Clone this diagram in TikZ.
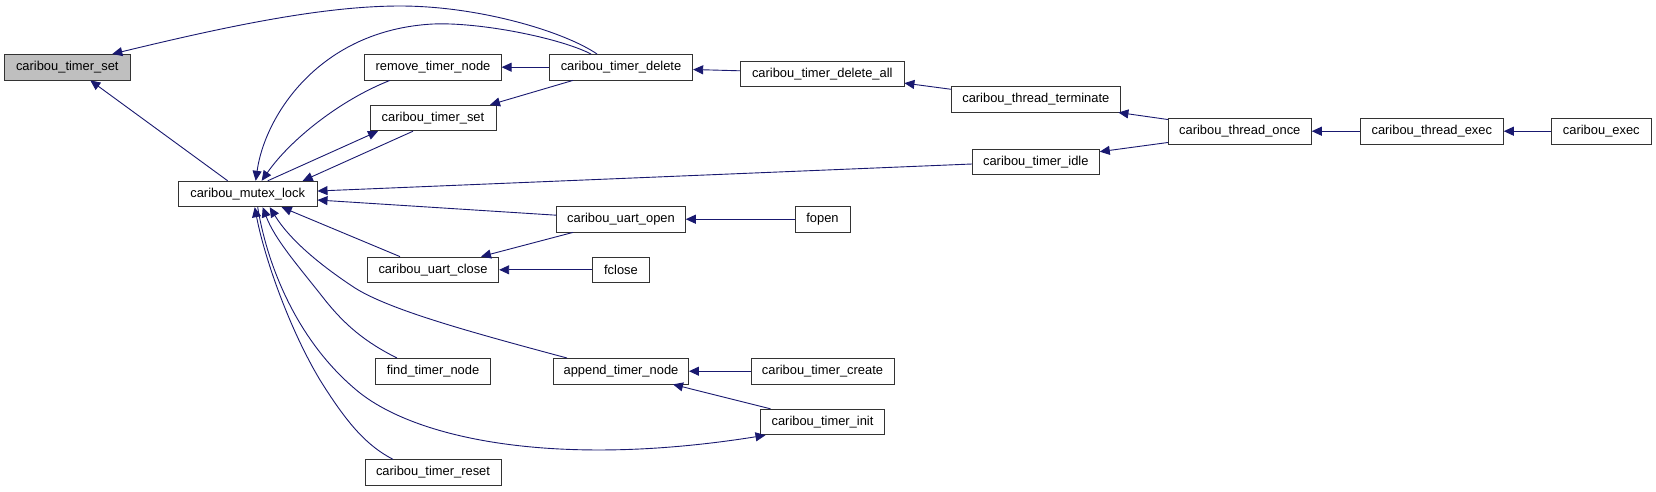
\documentclass[tikz,border=0pt]{standalone}
\usepackage{fontspec}
\setmainfont{Liberation Sans}
\usetikzlibrary{arrows.meta}
\definecolor{edgec}{HTML}{191970}
\definecolor{graybox}{HTML}{BFBFBF}
\begin{document}
\begin{tikzpicture}[x=1pt,y=-1pt,
  box/.style={draw=black!80, line width=0.9pt, rectangle, inner sep=0pt,
    minimum height=25.5pt, fill=white,
    font=\fontsize{12.9}{15}\selectfont},
  ed/.style={draw=edgec, line width=0.9pt, -{Triangle[length=10pt,width=9pt]}}]
\path[use as bounding box, fill=white] (0,0) rectangle (1656,491);

% nodes
\node[box, fill=graybox, minimum width=125.3pt] (ts) at (67.3,67.2) {caribou\_timer\_set};
\node[box, minimum width=136.3pt] (rm) at (433,67.2) {remove\_timer\_node};
\node[box, minimum width=126pt] (ts2) at (433,118) {caribou\_timer\_set};
\node[box, minimum width=138.7pt] (ml) at (247.7,194) {caribou\_mutex\_lock};
\node[box, minimum width=131.4pt] (uc) at (433,269.8) {caribou\_uart\_close};
\node[box, minimum width=115pt] (fn) at (433,371.2) {find\_timer\_node};
\node[box, minimum width=136pt] (tr) at (433,472.5) {caribou\_timer\_reset};
\node[box, minimum width=143.4pt] (td) at (621,67.2) {caribou\_timer\_delete};
\node[box, minimum width=163.3pt] (da) at (822.3,73.8) {caribou\_timer\_delete\_all};
\node[box, minimum width=168.3pt] (tt) at (1035.8,99.3) {caribou\_thread\_terminate};
\node[box, minimum width=127pt] (ti) at (1035.8,161.7) {caribou\_timer\_idle};
\node[box, minimum width=128.6pt] (uo) at (621,219.2) {caribou\_uart\_open};
\node[box, minimum width=55pt] (fo) at (822.5,219.2) {fopen};
\node[box, minimum width=57.7pt] (fc) at (621,269.8) {fclose};
\node[box, minimum width=135pt] (ap) at (621,371.2) {append\_timer\_node};
\node[box, minimum width=143pt] (tc) at (822.5,371.2) {caribou\_timer\_create};
\node[box, minimum width=124.4pt] (tin) at (822.5,422) {caribou\_timer\_init};
\node[box, minimum width=143pt] (to) at (1239.8,131.2) {caribou\_thread\_once};
\node[box, minimum width=143pt] (te) at (1431.8,131.2) {caribou\_thread\_exec};
\node[box, minimum width=99.3pt] (ce) at (1601.3,131.2) {caribou\_exec};

% edges
\draw[ed] ([xshift=-24pt]td.north) .. controls (565,32) and (480,6) .. (400,6)
  .. controls (320,6) and (220,28) .. ([xshift=45pt]ts.north);
\draw[ed] ([xshift=-30pt]td.north) .. controls (560,38) and (480,22) .. (433,24)
  .. controls (320,30) and (265,115) .. ([xshift=8pt]ml.north);
\draw[ed] ([xshift=-43pt]rm.south) .. controls (340,100) and (290,140) .. ([xshift=14pt]ml.north);
\draw[ed] (td.west) -- (rm.east);
\draw[ed] ([xshift=-48pt]td.south) -- ([xshift=57pt]ts2.north);
\draw[ed] ([xshift=20pt]ml.north) -- ([xshift=-55pt]ts2.south);
\draw[ed] ([xshift=-20pt]ts2.south) -- ([xshift=55pt]ml.north);
\draw[ed] ([yshift=-2.3pt]ti.west) -- ([yshift=3pt]ml.east);
\draw[ed] ([yshift=4pt]uo.west) -- ([yshift=-6pt]ml.east);
\draw[ed] ([xshift=-33pt]uc.north) -- ([xshift=34pt]ml.south);
\draw[ed] ([xshift=-48pt]uo.south) -- ([xshift=48pt]uc.north);
\draw[ed] (fc.west) -- (uc.east);
\draw[ed] (fo.west) -- (uo.east);
\draw[ed] ([xshift=-54pt]ap.north) .. controls (470,332) and (390,310) .. (355,288)
  .. controls (320,265) and (290,240) .. ([xshift=22pt]ml.south);
\draw[ed] ([xshift=-36pt]fn.north) .. controls (365,342) and (345,325) .. (325,300)
  .. controls (300,268) and (275,240) .. ([xshift=15pt]ml.south);
\draw[ed] ([xshift=-40pt]tr.north) .. controls (365,445) and (345,420) .. (320,380)
  .. controls (290,330) and (265,260) .. ([xshift=7pt]ml.south);
\draw[ed] ([xshift=10pt]ml.south) .. controls (268,270) and (300,345) .. (360,393)
  .. controls (420,440) and (560,468) .. ([xshift=-57pt]tin.south);
\draw[ed] ([xshift=-52pt]tin.north) -- ([xshift=52pt]ap.south);
\draw[ed] (tc.west) -- (ap.east);
\draw[ed] ([xshift=-20pt]ml.north) -- ([xshift=23pt]ts.south);
\draw[ed] ([yshift=3pt]da.west) -- ([yshift=-2.3pt]td.east);
\draw[ed] ([yshift=10pt]tt.west) -- ([yshift=-9.3pt]da.east);
\draw[ed] ([yshift=11.7pt]to.west) -- ([xshift=-2pt]tt.south east);
\draw[ed] ([yshift=-11.3pt]to.west) -- ([yshift=10pt]ti.east);
\draw[ed] (te.west) -- (to.east);
\draw[ed] (ce.west) -- (te.east);
\end{tikzpicture}
\end{document}
